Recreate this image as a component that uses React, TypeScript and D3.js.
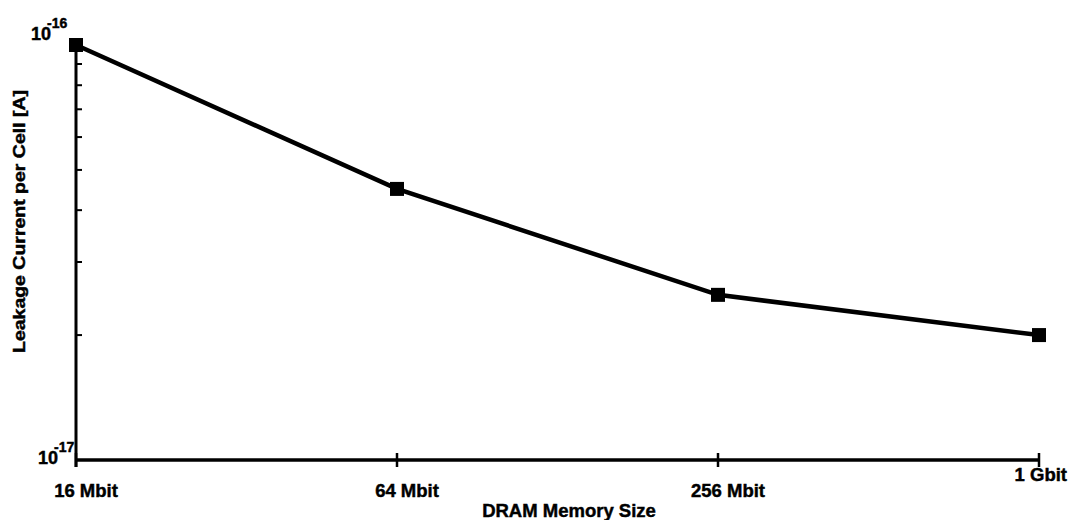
import React from "react";
import * as d3 from "d3";

// DRAM generations and the leakage current per cell (A), log scale
const memorySizes = ["16 Mbit", "64 Mbit", "256 Mbit", "1 Gbit"];
const leakageCurrent = [1.0e-16, 4.5e-17, 2.5e-17, 2.0e-17];
const yDomain = [1e-17, 1e-16];
const yMinorTicks = [2e-17, 3e-17, 4e-17, 5e-17, 6e-17, 7e-17, 8e-17, 9e-17];
const yTickExponents = ["-17", "-16"];

const W = 1071;
const H = 520;
const margin = { left: 76, right: 32, top: 45, bottom: 60 };
const FONT = "'Liberation Sans', Arial, Helvetica, sans-serif";

export default function App() {
  const x = d3
    .scalePoint<string>()
    .domain(memorySizes)
    .range([margin.left, W - margin.right]);
  const y = d3
    .scaleLog()
    .domain(yDomain)
    .range([H - margin.bottom, margin.top]);

  const y0 = y(yDomain[0]);
  const x0 = x(memorySizes[0]) as number;
  const xEnd = x(memorySizes[memorySizes.length - 1]) as number;

  const pts = memorySizes.map((m, i) => [x(m) as number, y(leakageCurrent[i])] as [number, number]);
  const line = d3.line().curve(d3.curveLinear)(pts) || "";

  // slightly heavier lettering
  const textInk = { stroke: "#000", strokeWidth: 0.45 };

  return (
    <svg
      width={W}
      height={H}
      style={{ position: "absolute", left: 0, top: 0, background: "#fff" }}
      fontFamily={FONT}
      fontWeight="bold"
    >
      {/* axes */}
      <line x1={x0} x2={x0} y1={margin.top} y2={y0 + 7} stroke="#000" strokeWidth={3} />
      <line x1={x0} x2={xEnd} y1={y0} y2={y0} stroke="#000" strokeWidth={3.5} />

      {/* minor log ticks on the y axis */}
      {yMinorTicks.map((v) => (
        <line key={v} x1={x0} x2={x0 + 6} y1={y(v)} y2={y(v)} stroke="#000" strokeWidth={2} />
      ))}

      {/* x ticks */}
      {memorySizes.map((m) => (
        <line key={m} x1={x(m)} x2={x(m)} y1={y0 - 7} y2={y0 + 7} stroke="#000" strokeWidth={2.5} />
      ))}

      {/* x tick labels */}
      {memorySizes.map((m, i) => {
        const last = i === memorySizes.length - 1;
        return (
          <text
            key={m}
            x={last ? (x(m) as number) + 28 : (x(m) as number) + 10}
            y={last ? y0 + 21 : y0 + 37}
            textAnchor={last ? "end" : "middle"}
            fontSize={18.5}
            {...textInk}
          >
            {m}
          </text>
        );
      })}

      {/* y decade labels */}
      {yDomain.map((v, i) => {
        const yy = y(v);
        const isBottom = i === 0;
        const baseX = isBottom ? 38 : 31;
        const baseY = isBottom ? yy + 4 : yy - 5;
        return (
          <text key={v} x={baseX} y={baseY} fontSize={18} {...textInk}>
            10
            <tspan dx={-4} dy={-12} fontSize={14}>
              {yTickExponents[i]}
            </tspan>
          </text>
        );
      })}

      {/* axis titles */}
      <text x={569} y={517} textAnchor="middle" fontSize={18.5} {...textInk}>
        DRAM Memory Size
      </text>
      <text
        transform={`translate(25,${(90 + 353) / 2}) rotate(-90)`}
        textAnchor="middle"
        fontSize={16.5}
        textLength={263}
        lengthAdjust="spacingAndGlyphs"
        {...textInk}
      >
        Leakage Current per Cell [A]
      </text>

      {/* data */}
      <path d={line} fill="none" stroke="#000" strokeWidth={4.5} strokeLinejoin="miter" />
      {pts.map(([px, py], i) => (
        <rect key={i} x={px - 7} y={py - 7} width={14} height={14} fill="#000" />
      ))}
    </svg>
  );
}
